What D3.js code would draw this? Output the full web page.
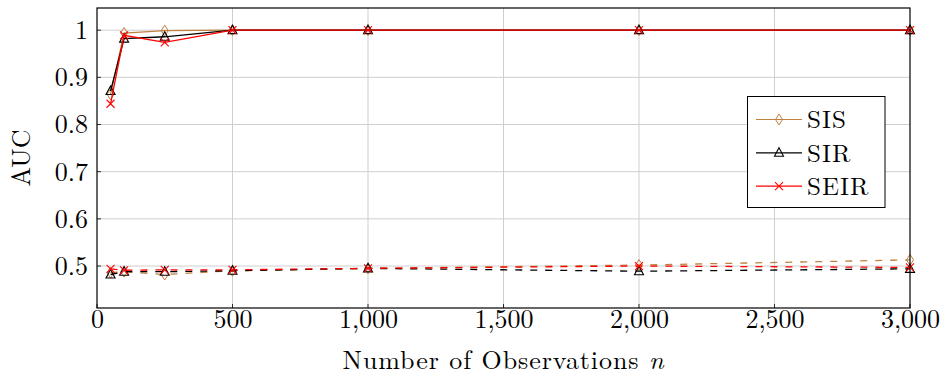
<!DOCTYPE html>
<html><head><meta charset="utf-8">
<script src="https://cdn.jsdelivr.net/npm/d3@7"></script>
<style>
body{margin:0;background:#fff;}
svg{display:block;}
text{font-family:"Latin Modern Roman","CMU Serif","Liberation Serif","DejaVu Serif",serif;fill:#000;}
</style></head><body>
<svg id="chart" width="949" height="377"></svg>
<script>
const observations = [50, 100, 250, 500, 1000, 2000, 3000];
const seriesNames = ["SIS", "SIR", "SEIR"];
const sisHigh  = [0.864, 0.994, 0.999, 1.0, 1.0, 1.0, 1.0];
const sirHigh  = [0.871, 0.982, 0.986, 1.0, 1.0, 1.0, 1.0];
const seirHigh = [0.844, 0.989, 0.974, 1.0, 1.0, 1.0, 1.0];
const sisLow   = [0.486, 0.488, 0.482, 0.490, 0.495, 0.502, 0.513];
const sirLow   = [0.482, 0.488, 0.488, 0.490, 0.495, 0.489, 0.494];
const seirLow  = [0.494, 0.491, 0.492, 0.492, 0.495, 0.500, 0.497];
const xTicks = [0, 500, 1000, 1500, 2000, 2500, 3000];
const yTicks = [0.5, 0.6, 0.7, 0.8, 0.9, 1];

const colors = {SIS:"#bf8040", SIR:"#000000", SEIR:"#ff0000"};
const markers = {SIS:"diamond", SIR:"triangle", SEIR:"cross"};

const svg = d3.select("#chart");
const L = 97, R = 910, T = 8, B = 308;
const x = d3.scaleLinear().domain([0, 3000]).range([L, R]);
const y = d3.scaleLinear().domain([0.411, 1.047]).range([B, T]);

// grid
svg.append("g").selectAll("line").data(xTicks.slice(1, -1)).join("line")
  .attr("x1", d => x(d)).attr("x2", d => x(d)).attr("y1", T).attr("y2", B)
  .attr("stroke", "#cfcfcf").attr("stroke-width", 1);
svg.append("g").selectAll("line").data(yTicks).join("line")
  .attr("x1", L).attr("x2", R).attr("y1", d => y(d)).attr("y2", d => y(d))
  .attr("stroke", "#cfcfcf").attr("stroke-width", 1);

// axes (labels)
const fmt = d3.format(",");
const xAxis = d3.axisBottom(x).tickValues(xTicks).tickFormat(d => fmt(d)).tickSize(0).tickPadding(2);
const gx = svg.append("g").attr("transform", `translate(0,${B})`).call(xAxis);
gx.select(".domain").remove();
gx.selectAll("text").style("font-size", "26px");
const yAxis = d3.axisLeft(y).tickValues(yTicks).tickFormat(d => d === 1 ? "1" : d3.format(".1f")(d)).tickSize(0).tickPadding(9);
const gy = svg.append("g").attr("transform", `translate(${L},0)`).call(yAxis);
gy.select(".domain").remove();
gy.selectAll("text").style("font-size", "26px");

// small inward ticks
svg.append("g").selectAll("line").data(xTicks).join("line")
  .attr("x1", d => x(d)).attr("x2", d => x(d)).attr("y1", B).attr("y2", B - 4)
  .attr("stroke", "#000").attr("stroke-width", 0.8);
svg.append("g").selectAll("line").data(yTicks).join("line")
  .attr("x1", L).attr("x2", L + 4).attr("y1", d => y(d)).attr("y2", d => y(d))
  .attr("stroke", "#000").attr("stroke-width", 0.8);

function drawMarker(g, type, cx, cy, color) {
  if (type === "diamond") {
    g.append("path").attr("d", `M${cx},${cy-5.5}L${cx+3.5},${cy}L${cx},${cy+5.5}L${cx-3.5},${cy}Z`)
      .attr("fill", "none").attr("stroke", color).attr("stroke-width", 1);
  } else if (type === "triangle") {
    g.append("path").attr("d", `M${cx},${cy-5}L${cx+4.5},${cy+3.5}L${cx-4.5},${cy+3.5}Z`)
      .attr("fill", "none").attr("stroke", color).attr("stroke-width", 1.1);
  } else {
    g.append("path").attr("d", `M${cx-4},${cy-4}L${cx+4},${cy+4}M${cx-4},${cy+4}L${cx+4},${cy-4}`)
      .attr("fill", "none").attr("stroke", color).attr("stroke-width", 1.1);
  }
}

const line = d3.line().x(d => x(d[0])).y(d => y(d[1]));
const series = [
  {name:"SIS", vals:sisLow, dash:"7,8"},
  {name:"SIR", vals:sirLow, dash:"7,8"},
  {name:"SEIR", vals:seirLow, dash:"7,8"},
  {name:"SIS", vals:sisHigh, dash:null},
  {name:"SIR", vals:sirHigh, dash:null},
  {name:"SEIR", vals:seirHigh, dash:null}
];
const plot = svg.append("g");
series.forEach(s => {
  const pts = observations.map((o, i) => [o, s.vals[i]]);
  plot.append("path").attr("d", line(pts)).attr("fill", "none")
    .attr("stroke", colors[s.name]).attr("stroke-width", 1.3)
    .attr("stroke-dasharray", s.dash);
  const mg = plot.append("g");
  pts.forEach(p => drawMarker(mg, markers[s.name], x(p[0]), y(p[1]), colors[s.name]));
});

// frame
svg.append("rect").attr("x", L).attr("y", T).attr("width", R - L).attr("height", B - T)
  .attr("fill", "none").attr("stroke", "#000").attr("stroke-width", 1.2);

// legend
const lg = svg.append("g");
lg.append("rect").attr("x", 747.5).attr("y", 96.5).attr("width", 137.5).attr("height", 111)
  .attr("fill", "#fff").attr("stroke", "#000").attr("stroke-width", 1);
seriesNames.forEach((n, i) => {
  const cy = 119.5 + i * 33.3;
  lg.append("line").attr("x1", 756).attr("x2", 802).attr("y1", cy).attr("y2", cy)
    .attr("stroke", colors[n]).attr("stroke-width", 1.2);
  drawMarker(lg, markers[n], 779, cy, colors[n]);
  lg.append("text").attr("x", 807).attr("y", cy).attr("dy", "0.35em")
    .style("font-size", "25px").style("letter-spacing", "1px").text(n);
});

// axis titles
svg.append("text").attr("x", (L + R) / 2).attr("y", 369).attr("text-anchor", "middle")
  .style("font-size", "26px").style("letter-spacing", "0.9px")
  .html('Number of Observations <tspan font-style="italic">n</tspan>');
svg.append("text").attr("transform", `translate(30,${(T + B) / 2}) rotate(-90)`)
  .attr("text-anchor", "middle").style("font-size", "26px").text("AUC");
</script>
</body></html>
